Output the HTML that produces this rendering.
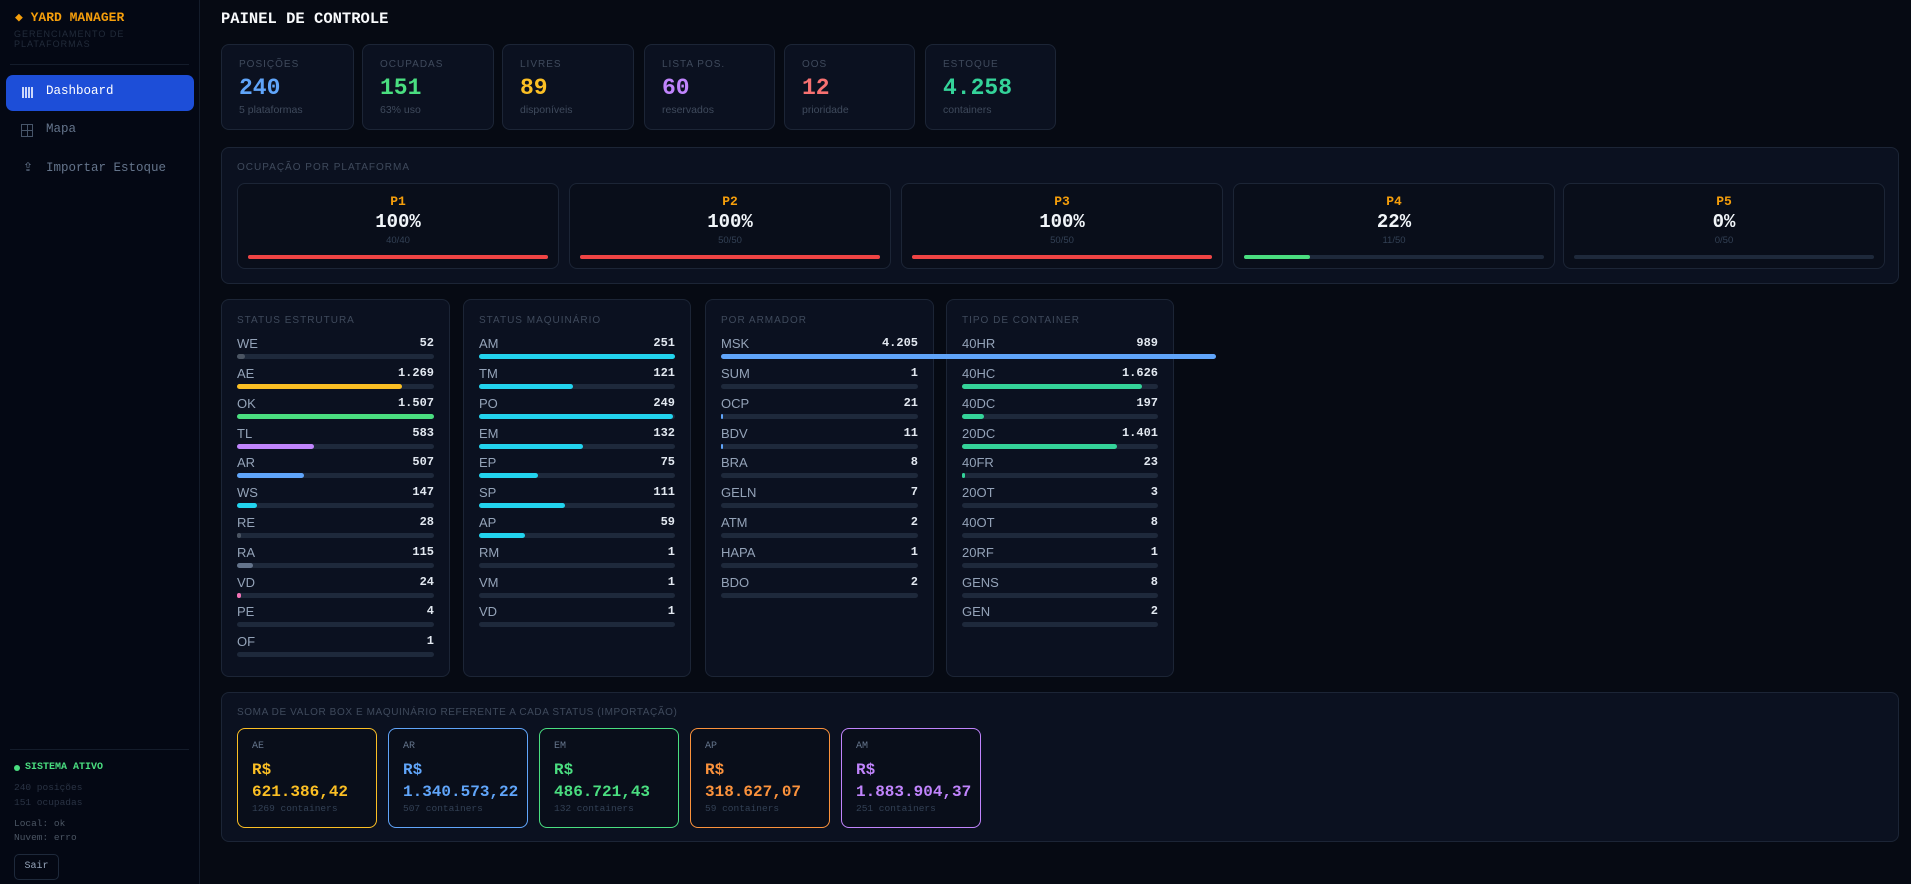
<!DOCTYPE html>
<html><head><meta charset="utf-8"><style>
*{box-sizing:border-box;margin:0;padding:0}
body{width:1911px;height:884px;background:#060a13;font-family:"Liberation Sans","DejaVu Sans",sans-serif;position:relative;overflow:hidden;color:#cbd5e1}
.mono{font-family:"Liberation Mono","DejaVu Sans Mono",monospace}
.abs{position:absolute}
#side{left:0;top:0;width:200px;height:884px;background:#040814;border-right:1px solid #141c2b}
.card{position:absolute;background:#0b1120;border:1px solid #1c2536;border-radius:8px}
.lbl{font-size:10px;letter-spacing:1px;color:#3f4a5c;text-transform:uppercase}
.kv{font-family:"Liberation Mono",monospace;font-weight:bold;font-size:23px}
.ks{font-size:10.5px;color:#3f4a5c}
.row{position:absolute;left:15px;right:15px;height:30px}
.row .n{position:absolute;left:0;top:0;font-size:13px;color:#94a3b8}
.row .v{position:absolute;right:0;top:0;font-size:12px;font-weight:bold;color:#e2e8f0;font-family:"Liberation Mono",monospace}
.row .t{position:absolute;left:0;right:0;top:18px;height:5px;background:#1e293b;border-radius:3px}
.row .f{position:absolute;left:0;top:0;height:5px;border-radius:3px}
.pc{position:absolute;top:35px;width:322px;height:86px;background:#090e1a;border:1px solid #1c2536;border-radius:8px;text-align:center}
.pc .p{position:absolute;top:10px;left:0;right:0;color:#f59e0b;font-weight:bold;font-size:13px;font-family:"Liberation Mono",monospace}
.pc .pp{position:absolute;top:27px;left:0;right:0;color:#f1f5f9;font-weight:bold;font-size:19px;font-family:"Liberation Mono",monospace}
.pc .ps{position:absolute;top:51px;left:0;right:0;color:#334155;font-size:9.5px}
.pc .t{position:absolute;left:10px;right:10px;top:71px;height:4px;background:#1e293b;border-radius:2px}
.pc .f{height:4px;border-radius:2px}
.vc{position:absolute;top:35px;width:140px;height:100px;background:#090e1a;border-radius:8px;border:1.5px solid}
.vc .a{position:absolute;left:14px;top:12px;font-size:10px;color:#64748b;font-family:"Liberation Mono",monospace}
.vc .b{position:absolute;left:14px;top:30px;font-size:16px;font-weight:bold;font-family:"Liberation Mono",monospace;line-height:22px}
.vc .c{position:absolute;left:14px;top:74px;font-size:9.5px;color:#334155;font-family:"Liberation Mono",monospace}
</style></head><body>
<div id="side" class="abs">
 <div class="abs mono" style="left:15px;top:10px;color:#f59e0b;font-weight:bold;font-size:13px">◆ YARD MANAGER</div>
 <div class="abs" style="left:14px;top:29px;font-size:9px;letter-spacing:1px;color:#222b3a;line-height:10px">GERENCIAMENTO DE<br>PLATAFORMAS</div>
 <div class="abs" style="left:10px;right:10px;top:64px;height:1px;background:#141c2b"></div>
 <div class="abs" style="left:6px;top:75px;width:188px;height:36px;background:#1d4ed8;border-radius:7px"></div>
 <div class="abs" style="left:22px;top:87px;width:11px;height:11px;background:repeating-linear-gradient(90deg,#e0e7ff 0 2px,transparent 2px 3px),#1d4ed8;opacity:.9"></div>
 <div class="abs mono" style="left:46px;top:84px;color:#fff;font-size:12.5px">Dashboard</div>
 <div class="abs" style="left:21px;top:124px;width:12px;height:13px;border:1px solid #475569;background:linear-gradient(#475569,#475569) center/1px 100% no-repeat,linear-gradient(#475569,#475569) center/100% 1px no-repeat"></div>
 <div class="abs mono" style="left:46px;top:122px;color:#64748b;font-size:12.5px">Mapa</div>
 <div class="abs" style="left:23px;top:160px;color:#64748b;font-size:12px">⇪</div>
 <div class="abs mono" style="left:46px;top:161px;color:#64748b;font-size:12.5px">Importar Estoque</div>
 <div class="abs" style="left:10px;right:10px;top:749px;height:1px;background:#141c2b"></div>
 <div class="abs" style="left:14px;top:765px;width:6px;height:6px;border-radius:3px;background:#4ade80"></div>
 <div class="abs mono" style="left:25px;top:762px;color:#4ade80;font-size:10px;font-weight:bold">SISTEMA ATIVO</div>
 <div class="abs mono" style="left:14px;top:780px;color:#2a3344;font-size:9.5px;line-height:15px">240 posições<br>151 ocupadas</div>
 <div class="abs mono" style="left:14px;top:817px;color:#4b5563;font-size:9.5px;line-height:14px">Local: ok<br>Nuvem: erro</div>
 <div class="abs mono" style="left:14px;top:854px;width:45px;height:26px;border:1px solid #1e293b;border-radius:5px;color:#94a3b8;font-size:10px;text-align:center;line-height:24px">Sair</div>
</div>

<div class="abs mono" style="left:221px;top:10px;color:#f8fafc;font-weight:bold;font-size:15.5px">PAINEL DE CONTROLE</div>

<div class="card" style="left:221px;top:44px;width:133px;height:86px"><div class="abs lbl" style="left:17px;top:14px">Posições</div><div class="abs kv" style="left:17px;top:30px;color:#60a5fa">240</div><div class="abs ks" style="left:17px;top:59px">5 plataformas</div></div>
<div class="card" style="left:362px;top:44px;width:132px;height:86px"><div class="abs lbl" style="left:17px;top:14px">Ocupadas</div><div class="abs kv" style="left:17px;top:30px;color:#4ade80">151</div><div class="abs ks" style="left:17px;top:59px">63% uso</div></div>
<div class="card" style="left:502px;top:44px;width:132px;height:86px"><div class="abs lbl" style="left:17px;top:14px">Livres</div><div class="abs kv" style="left:17px;top:30px;color:#fbbf24">89</div><div class="abs ks" style="left:17px;top:59px">disponíveis</div></div>
<div class="card" style="left:644px;top:44px;width:131px;height:86px"><div class="abs lbl" style="left:17px;top:14px">Lista Pos.</div><div class="abs kv" style="left:17px;top:30px;color:#c084fc">60</div><div class="abs ks" style="left:17px;top:59px">reservados</div></div>
<div class="card" style="left:784px;top:44px;width:131px;height:86px"><div class="abs lbl" style="left:17px;top:14px">OOS</div><div class="abs kv" style="left:17px;top:30px;color:#f87171">12</div><div class="abs ks" style="left:17px;top:59px">prioridade</div></div>
<div class="card" style="left:925px;top:44px;width:131px;height:86px"><div class="abs lbl" style="left:17px;top:14px">Estoque</div><div class="abs kv" style="left:17px;top:30px;color:#34d399">4.258</div><div class="abs ks" style="left:17px;top:59px">containers</div></div>

<div class="card" style="left:221px;top:147px;width:1678px;height:137px">
 <div class="abs lbl" style="left:15px;top:14px">Ocupação por plataforma</div>
 <div class="pc" style="left:15px"><div class="p">P1</div><div class="pp">100%</div><div class="ps">40/40</div><div class="t"><div class="f" style="width:100%;background:#ef4444"></div></div></div>
 <div class="pc" style="left:347px"><div class="p">P2</div><div class="pp">100%</div><div class="ps">50/50</div><div class="t"><div class="f" style="width:100%;background:#ef4444"></div></div></div>
 <div class="pc" style="left:679px"><div class="p">P3</div><div class="pp">100%</div><div class="ps">50/50</div><div class="t"><div class="f" style="width:100%;background:#ef4444"></div></div></div>
 <div class="pc" style="left:1011px"><div class="p">P4</div><div class="pp">22%</div><div class="ps">11/50</div><div class="t"><div class="f" style="width:22%;background:#4ade80"></div></div></div>
 <div class="pc" style="left:1341px"><div class="p">P5</div><div class="pp">0%</div><div class="ps">0/50</div><div class="t"><div class="f" style="width:0"></div></div></div>
</div>

<div class="card" style="left:221px;top:299px;width:229px;height:378px">
 <div class="abs lbl" style="left:15px;top:15px">Status Estrutura</div>
 <div class="row" style="top:36px"><span class="n">WE</span><span class="v">52</span><div class="t"><div class="f" style="width:4%;background:#4b5563"></div></div></div>
 <div class="row" style="top:66px"><span class="n">AE</span><span class="v">1.269</span><div class="t"><div class="f" style="width:84%;background:#fbbf24"></div></div></div>
 <div class="row" style="top:96px"><span class="n">OK</span><span class="v">1.507</span><div class="t"><div class="f" style="width:100%;background:#4ade80"></div></div></div>
 <div class="row" style="top:126px"><span class="n">TL</span><span class="v">583</span><div class="t"><div class="f" style="width:39%;background:#c084fc"></div></div></div>
 <div class="row" style="top:155px"><span class="n">AR</span><span class="v">507</span><div class="t"><div class="f" style="width:34%;background:#60a5fa"></div></div></div>
 <div class="row" style="top:185px"><span class="n">WS</span><span class="v">147</span><div class="t"><div class="f" style="width:10%;background:#22d3ee"></div></div></div>
 <div class="row" style="top:215px"><span class="n">RE</span><span class="v">28</span><div class="t"><div class="f" style="width:2%;background:#4b5563"></div></div></div>
 <div class="row" style="top:245px"><span class="n">RA</span><span class="v">115</span><div class="t"><div class="f" style="width:8%;background:#64748b"></div></div></div>
 <div class="row" style="top:275px"><span class="n">VD</span><span class="v">24</span><div class="t"><div class="f" style="width:2%;background:#f472b6"></div></div></div>
 <div class="row" style="top:304px"><span class="n">PE</span><span class="v">4</span><div class="t"></div></div>
 <div class="row" style="top:334px"><span class="n">OF</span><span class="v">1</span><div class="t"></div></div>
</div>

<div class="card" style="left:463px;top:299px;width:228px;height:378px">
 <div class="abs lbl" style="left:15px;top:15px">Status Maquinário</div>
 <div class="row" style="top:36px"><span class="n">AM</span><span class="v">251</span><div class="t"><div class="f" style="width:100%;background:#22d3ee"></div></div></div>
 <div class="row" style="top:66px"><span class="n">TM</span><span class="v">121</span><div class="t"><div class="f" style="width:48%;background:#22d3ee"></div></div></div>
 <div class="row" style="top:96px"><span class="n">PO</span><span class="v">249</span><div class="t"><div class="f" style="width:99%;background:#22d3ee"></div></div></div>
 <div class="row" style="top:126px"><span class="n">EM</span><span class="v">132</span><div class="t"><div class="f" style="width:53%;background:#22d3ee"></div></div></div>
 <div class="row" style="top:155px"><span class="n">EP</span><span class="v">75</span><div class="t"><div class="f" style="width:30%;background:#22d3ee"></div></div></div>
 <div class="row" style="top:185px"><span class="n">SP</span><span class="v">111</span><div class="t"><div class="f" style="width:44%;background:#22d3ee"></div></div></div>
 <div class="row" style="top:215px"><span class="n">AP</span><span class="v">59</span><div class="t"><div class="f" style="width:23.5%;background:#22d3ee"></div></div></div>
 <div class="row" style="top:245px"><span class="n">RM</span><span class="v">1</span><div class="t"></div></div>
 <div class="row" style="top:275px"><span class="n">VM</span><span class="v">1</span><div class="t"></div></div>
 <div class="row" style="top:304px"><span class="n">VD</span><span class="v">1</span><div class="t"></div></div>
</div>

<div class="card" style="left:946px;top:299px;width:228px;height:378px">
 <div class="abs lbl" style="left:15px;top:15px">Tipo de Container</div>
 <div class="row" style="top:36px"><span class="n">40HR</span><span class="v">989</span><div class="t"><div class="f" style="width:56%;background:#34d399"></div></div></div>
 <div class="row" style="top:66px"><span class="n">40HC</span><span class="v">1.626</span><div class="t"><div class="f" style="width:92%;background:#34d399"></div></div></div>
 <div class="row" style="top:96px"><span class="n">40DC</span><span class="v">197</span><div class="t"><div class="f" style="width:11%;background:#34d399"></div></div></div>
 <div class="row" style="top:126px"><span class="n">20DC</span><span class="v">1.401</span><div class="t"><div class="f" style="width:79%;background:#34d399"></div></div></div>
 <div class="row" style="top:155px"><span class="n">40FR</span><span class="v">23</span><div class="t"><div class="f" style="width:1.3%;background:#34d399"></div></div></div>
 <div class="row" style="top:185px"><span class="n">20OT</span><span class="v">3</span><div class="t"></div></div>
 <div class="row" style="top:215px"><span class="n">40OT</span><span class="v">8</span><div class="t"></div></div>
 <div class="row" style="top:245px"><span class="n">20RF</span><span class="v">1</span><div class="t"></div></div>
 <div class="row" style="top:275px"><span class="n">GENS</span><span class="v">8</span><div class="t"></div></div>
 <div class="row" style="top:304px"><span class="n">GEN</span><span class="v">2</span><div class="t"></div></div>
</div>

<div class="card" style="left:705px;top:299px;width:229px;height:378px;overflow:visible;z-index:2">
 <div class="abs lbl" style="left:15px;top:15px">Por Armador</div>
 <div class="row" style="top:36px"><span class="n">MSK</span><span class="v">4.205</span><div class="t"><div class="f" style="width:495px;background:#60a5fa"></div></div></div>
 <div class="row" style="top:66px"><span class="n">SUM</span><span class="v">1</span><div class="t"></div></div>
 <div class="row" style="top:96px"><span class="n">OCP</span><span class="v">21</span><div class="t"><div class="f" style="width:2px;background:#60a5fa"></div></div></div>
 <div class="row" style="top:126px"><span class="n">BDV</span><span class="v">11</span><div class="t"><div class="f" style="width:1.5px;background:#60a5fa"></div></div></div>
 <div class="row" style="top:155px"><span class="n">BRA</span><span class="v">8</span><div class="t"></div></div>
 <div class="row" style="top:185px"><span class="n">GELN</span><span class="v">7</span><div class="t"></div></div>
 <div class="row" style="top:215px"><span class="n">ATM</span><span class="v">2</span><div class="t"></div></div>
 <div class="row" style="top:245px"><span class="n">HAPA</span><span class="v">1</span><div class="t"></div></div>
 <div class="row" style="top:275px"><span class="n">BDO</span><span class="v">2</span><div class="t"></div></div>
</div>

<div class="card" style="left:221px;top:692px;width:1678px;height:150px">
 <div class="abs lbl" style="left:15px;top:14px;letter-spacing:.6px">Soma de valor box e maquinário referente a cada status (importação)</div>
 <div class="vc" style="left:15px;border-color:#fbbf24"><div class="a">AE</div><div class="b" style="color:#fbbf24">R$<br>621.386,42</div><div class="c">1269 containers</div></div>
 <div class="vc" style="left:166px;border-color:#60a5fa"><div class="a">AR</div><div class="b" style="color:#60a5fa">R$<br>1.340.573,22</div><div class="c">507 containers</div></div>
 <div class="vc" style="left:317px;border-color:#4ade80"><div class="a">EM</div><div class="b" style="color:#4ade80">R$<br>486.721,43</div><div class="c">132 containers</div></div>
 <div class="vc" style="left:468px;border-color:#fb923c"><div class="a">AP</div><div class="b" style="color:#fb923c">R$<br>318.627,07</div><div class="c">59 containers</div></div>
 <div class="vc" style="left:619px;border-color:#c084fc"><div class="a">AM</div><div class="b" style="color:#c084fc">R$<br>1.883.904,37</div><div class="c">251 containers</div></div>
</div>
</body></html>
